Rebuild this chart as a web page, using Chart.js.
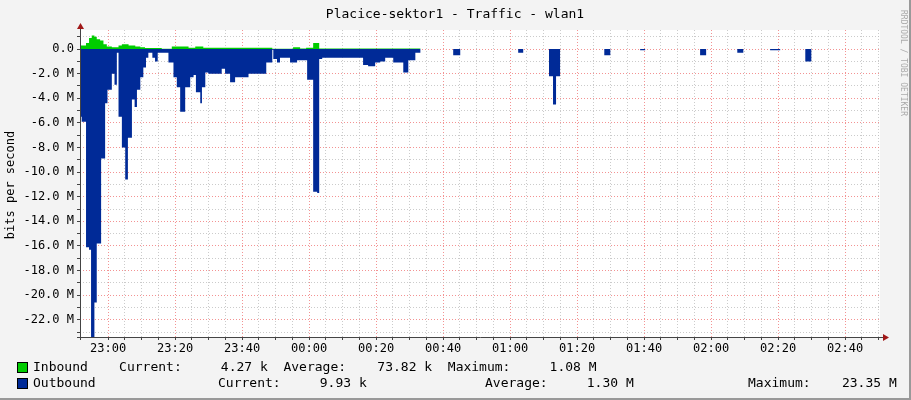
<!DOCTYPE html>
<html><head><meta charset="utf-8">
<script src="https://cdn.jsdelivr.net/npm/chart.js@4"></script>
<style>html,body{margin:0;padding:0;background:#f3f3f3}#w{width:911px;height:400px}</style>
</head><body><div id="w"><canvas id="c"></canvas></div>
<script>
// minutes since 22:50
const outTimes = [1.6,2.1,3.4,4.3,4.9,5.9,6.6,7.9,9.1,9.8,11.1,11.9,12.6,13.1,14.1,15.1,15.9,17.1,17.9,18.6,19.6,20.5,21.3,22.0,23.2,24.0,24.8,28.0,29.5,30.5,31.5,33.0,34.5,35.5,36.2,37.5,38.0,39.0,39.9,43.9,44.9,46.4,47.9,51.9,57.2,59.0,59.3,60.4,61.3,64.3,66.4,69.4,71.2,72.4,73.0,73.9,86.1,87.6,89.7,91.2,92.7,95.1,98.1,99.6,101.7,103.2,113.0,115.1,132.4,133.9,141.6,142.8,143.7,144.9,158.1,159.9,168.8,170.3,186.7,188.5,197.8,199.6,207.6,210.6,218.1,219.9,240.4];
const outValues = [5.5,5.9,16.1,16.3,23.4,20.6,15.8,8.9,4.4,3.3,2.0,2.9,0.3,5.5,8.0,10.6,7.2,4.1,4.7,3.3,2.3,1.5,0.7,0.3,0.7,1.0,0.3,1.1,2.3,3.1,5.1,3.1,2.3,2.1,3.5,4.4,3.1,1.9,2.0,1.6,2.0,2.7,2.3,2.0,1.1,0.05,0.8,1.1,0.7,1.1,0.9,2.5,11.6,11.7,0.8,0.7,1.3,1.4,1.1,1.0,0.7,1.1,1.9,0.9,0.3,0,0.5,0,0.3,0,2.2,4.5,2.2,0,0.5,0,0.1,0,0.5,0,0.3,0,0.1,0,1.0,0,0];
const inTimes = [1.6,3.4,4.3,5.1,5.9,6.6,7.6,8.6,9.6,11.1,13.1,14.1,16.1,18.1,19.6,21.0,26.0,29.0,34.0,36.0,38.4,55.4,59.0,65.2,67.3,69.1,71.2,73.0,103.2,240.4];
const inValues = [0.3,0.5,0.9,1.1,1.0,0.8,0.7,0.4,0.2,0.15,0.3,0.4,0.3,0.2,0.15,0.08,0.02,0.2,0.1,0.2,0.1,0.1,0.02,0.15,0.05,0.1,0.5,0.05,0,0];
const xTickLabels = ["23:00","23:20","23:40","00:00","00:20","00:40","01:00","01:20","01:40","02:00","02:20","02:40"];
const xTickMinutes = [10,30,50,70,90,110,130,150,170,190,210,230];
const yTicksM = [0,-2,-4,-6,-8,-10,-12,-14,-16,-18,-20,-22];

const inData = inTimes.map((t,i)=>({x:t,y:inValues[i]*1e6}));
const outData = outTimes.map((t,i)=>({x:t,y:-outValues[i]*1e6}));
const FONT = "'DejaVu Sans Mono', monospace";

const deco = {
  id:'deco',
  beforeDraw(ch){
    const c=ch.ctx,a=ch.chartArea;
    c.save();
    c.fillStyle='#f3f3f3';c.fillRect(0,0,911,400);
    c.fillStyle='#ffffff';c.fillRect(a.left,a.top,a.right-a.left,a.bottom-a.top);
    c.restore();
  },
  afterDraw(ch){
    const c=ch.ctx,a=ch.chartArea;
    c.save();
    c.strokeStyle='#444';c.lineWidth=1;
    c.beginPath();c.moveTo(a.left+0.5,a.bottom+3);c.lineTo(a.left+0.5,a.top-2);
    c.moveTo(a.left-3,a.bottom+0.5);c.lineTo(a.right+4,a.bottom+0.5);c.stroke();
    c.fillStyle='#a01818';
    c.beginPath();c.moveTo(a.left-3,a.top-1);c.lineTo(a.left+4,a.top-1);c.lineTo(a.left+0.5,a.top-7);c.fill();
    c.beginPath();c.moveTo(a.right+3,a.bottom-3);c.lineTo(a.right+3,a.bottom+4);c.lineTo(a.right+9,a.bottom+0.5);c.fill();
    c.fillStyle='#000';c.font='13px '+FONT;c.textAlign='center';c.textBaseline='middle';
    c.fillText('Placice-sektor1 - Traffic - wlan1',455,15);
    c.save();c.translate(11,185);c.rotate(-Math.PI/2);c.font='12px '+FONT;c.fillText('bits per second',0,0);c.restore();
    c.save();c.translate(903,10);c.rotate(Math.PI/2);c.textAlign='left';c.fillStyle='#aaaaaa';c.font='8px '+FONT;c.fillText('RRDTOOL / TOBI OETIKER',0,0);c.restore();
    c.textAlign='left';c.font='13px '+FONT;c.fillStyle='#000';
    c.fillText('Inbound    Current:     4.27 k  Average:    73.82 k  Maximum:     1.08 M',33,368);
    c.fillText('Outbound',33,384);
    c.fillText('Current:     9.93 k',218,384);
    c.fillText('Average:     1.30 M',485,384);
    c.fillText('Maximum:    23.35 M',748,384);
    c.fillStyle='#00cc00';c.fillRect(18,363,9,9);c.strokeStyle='#000';c.strokeRect(17.5,362.5,10,10);
    c.fillStyle='#002a97';c.fillRect(18,379,9,9);c.strokeRect(17.5,378.5,10,10);
    c.strokeStyle='#999';c.lineWidth=2;c.beginPath();c.moveTo(0,399);c.lineTo(911,399);c.moveTo(910,0);c.lineTo(910,400);c.stroke();
    c.restore();
  }
};

new Chart(document.getElementById('c'),{
  type:'line',
  data:{datasets:[
    {data:outData,stepped:'before',fill:'origin',backgroundColor:'#002a97',borderWidth:0,pointRadius:0},
    {data:inData,stepped:'before',fill:'origin',backgroundColor:'#00cc00',borderWidth:0,pointRadius:0}
  ]},
  options:{
    responsive:true,maintainAspectRatio:false,animation:false,
    layout:{padding:{top:30,right:31,left:0,bottom:0}},
    plugins:{legend:{display:false},tooltip:{enabled:false}},
    scales:{
      x:{type:'linear',min:1.6,max:240.4,
        afterFit(s){s.height=63;},
        afterBuildTicks(s){const t=[];for(let m=10;m<=240;m+=5)t.push({value:m});s.ticks=t;},
        grid:{color:ctx=>xTickMinutes.includes(ctx.tick&&ctx.tick.value)?'rgba(240,120,120,0.8)':'rgba(190,190,190,0.8)',lineWidth:1,drawTicks:true,tickLength:3,tickColor:'#444',tickBorderDash:[]},
        border:{display:false,dash:[1,2]},
        ticks:{autoSkip:false,maxRotation:0,padding:2,color:'#000',font:{family:FONT,size:12},
          callback:v=>{const i=xTickMinutes.indexOf(v);return i>=0?xTickLabels[i]:'';}}
      },
      y:{min:-23.4e6,max:1.55e6,
        afterFit(s){s.width=80;},
        afterBuildTicks(s){const t=[];for(let m=1;m>=-23;m--)t.push({value:m*1e6});s.ticks=t;},
        grid:{color:ctx=>{const v=ctx.tick&&ctx.tick.value/1e6;return yTicksM.includes(Math.round(v))&&Math.round(v)===v?'rgba(240,120,120,0.8)':'rgba(190,190,190,0.8)';},lineWidth:1,tickLength:3,tickColor:'#444',tickBorderDash:[]},
        border:{display:false,dash:[1,2]},
        ticks:{autoSkip:false,padding:3,color:'#000',font:{family:FONT,size:12},
          callback:v=>{const m=Math.round(v/1e6);if(!yTicksM.includes(m))return '';return m===0?'0.0':m.toFixed(1)+' M';}}
      }
    }
  },
  plugins:[deco]
});
</script></body></html>
